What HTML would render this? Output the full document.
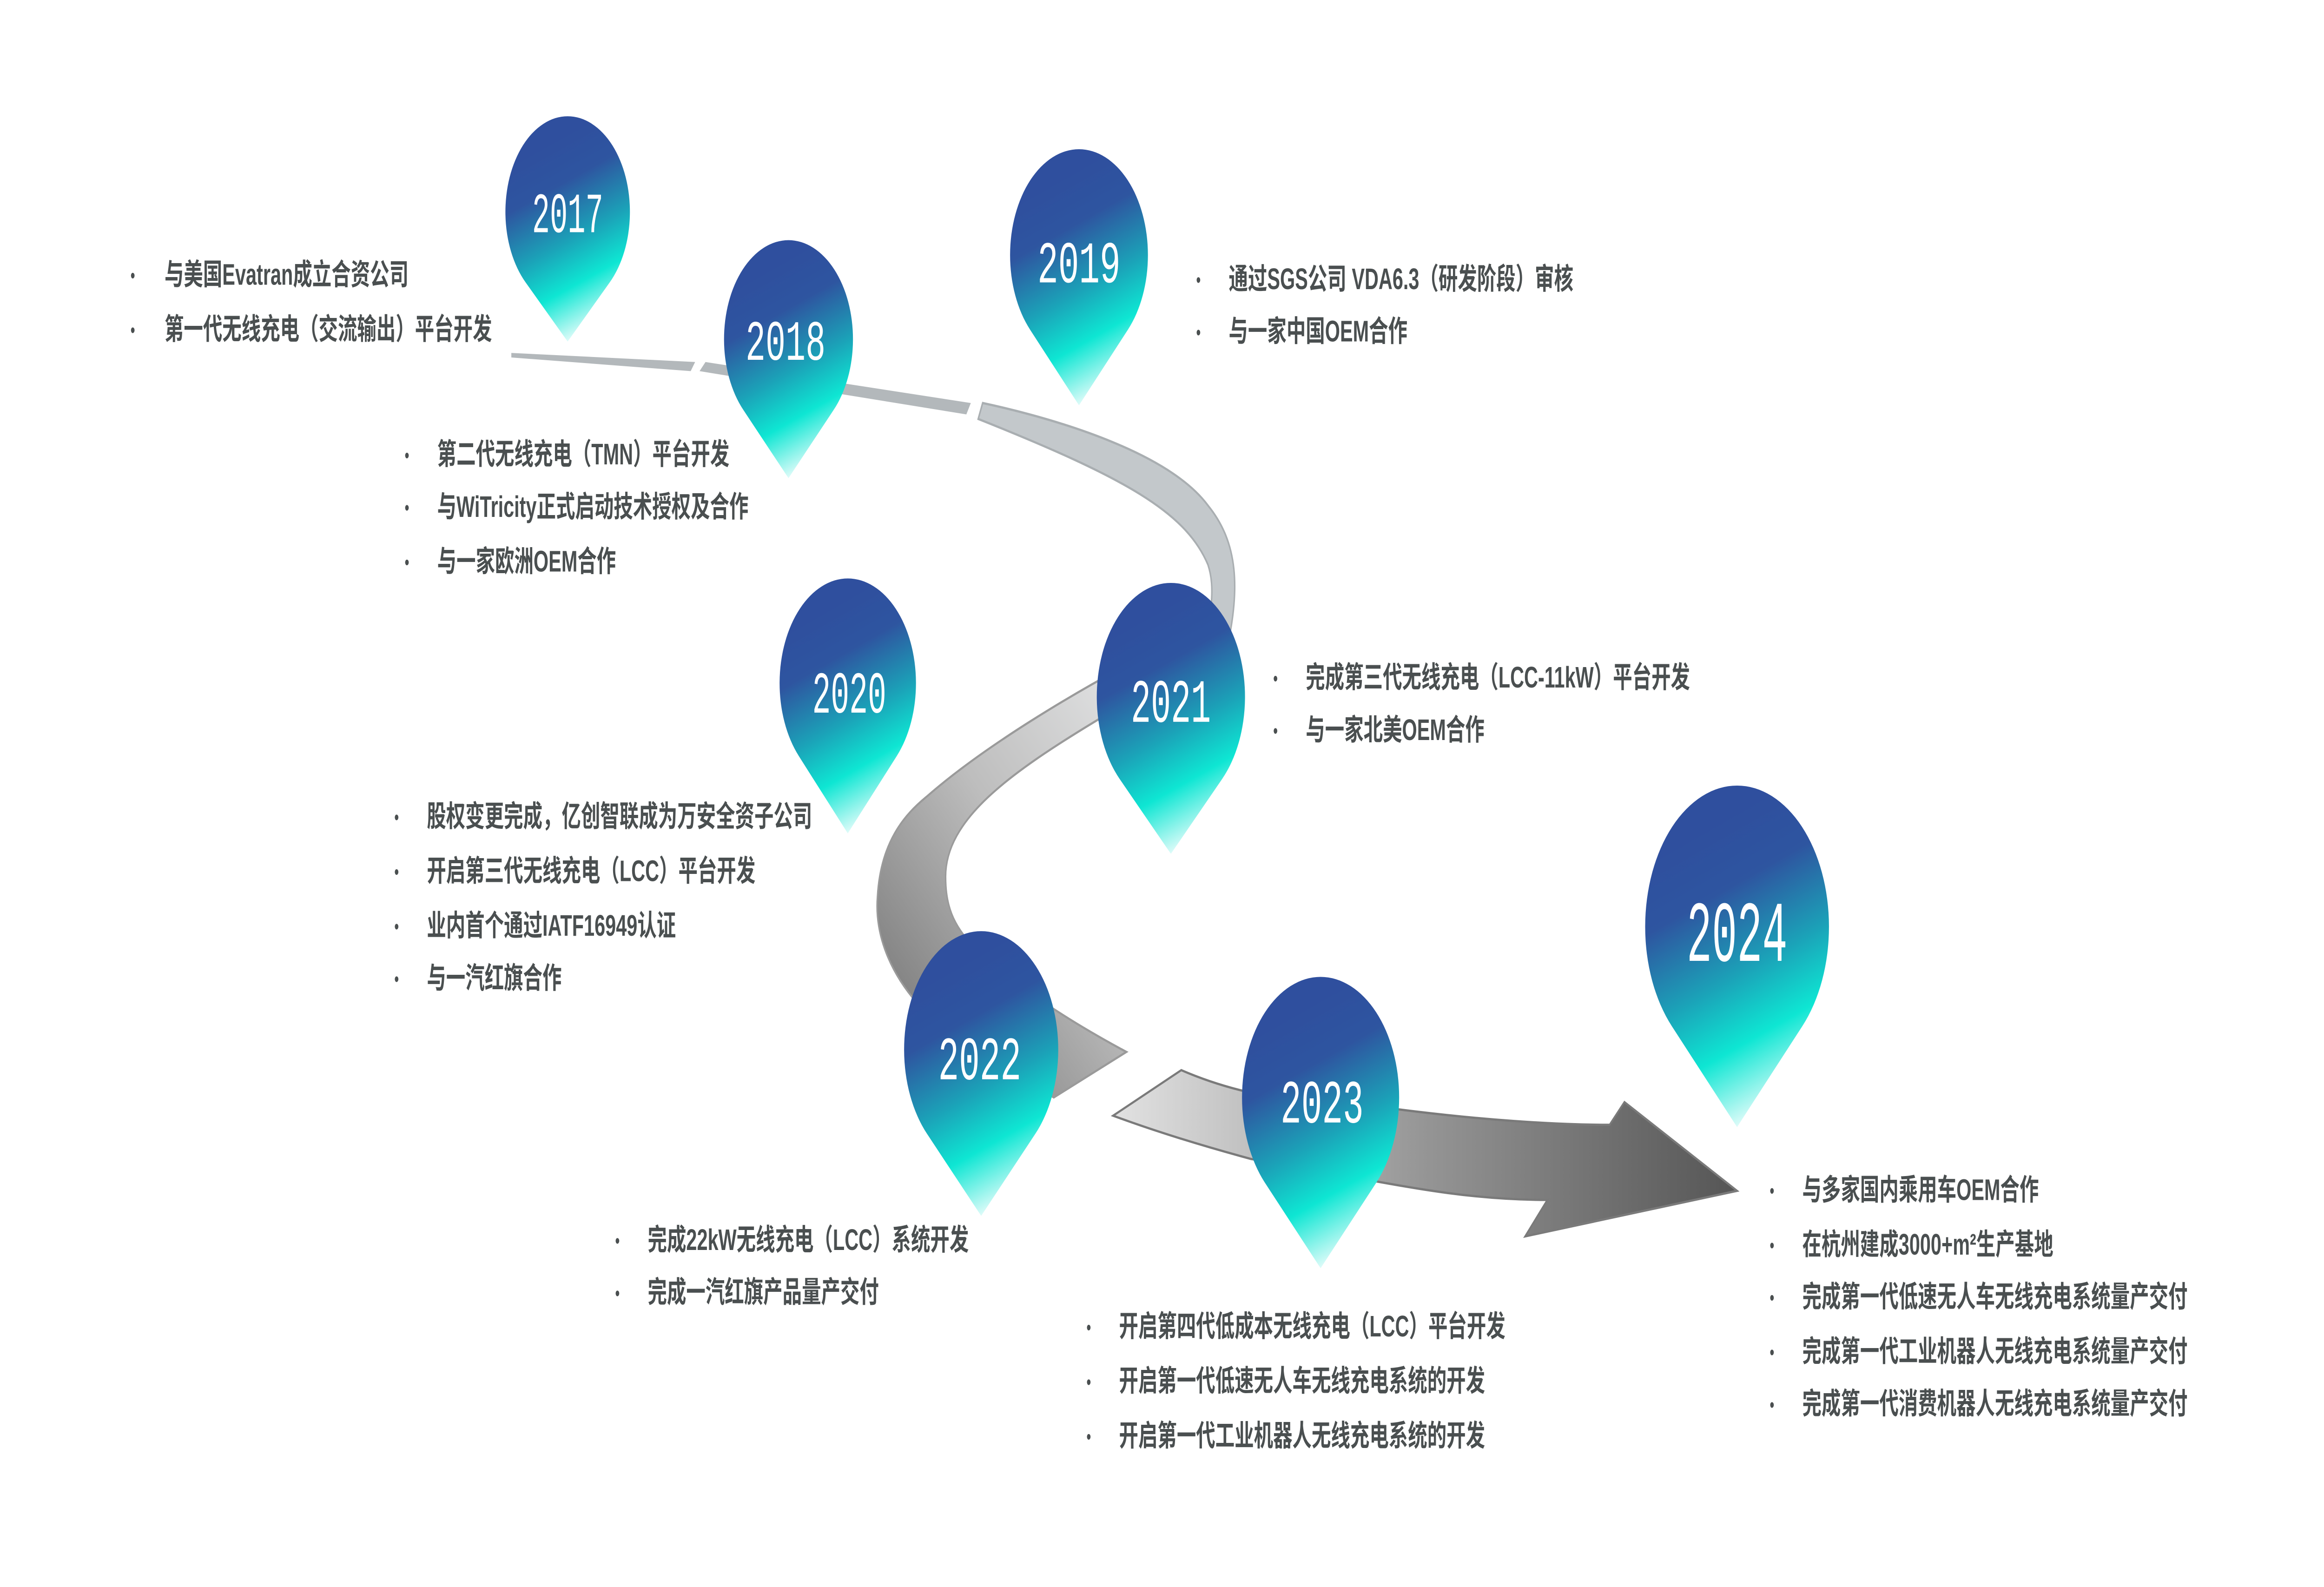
<!DOCTYPE html>
<html><head><meta charset="utf-8"><style>
html,body{margin:0;padding:0;background:#fff;width:100%;height:100%;overflow:hidden;}
svg{display:block;width:100vw;height:100vh;}
.t{font-family:"Liberation Sans","Noto Sans CJK SC",sans-serif;font-weight:bold;font-size:13px;fill:#4a4f50;}
.b{font-family:"Liberation Sans",sans-serif;font-size:9px;fill:#4a4f50;}
.y{font-family:"Liberation Mono","DejaVu Sans Mono",monospace;fill:#fff;text-anchor:middle;}
</style></head><body>
<svg viewBox="0 0 1568 697" preserveAspectRatio="none" xmlns="http://www.w3.org/2000/svg">
<defs>
<linearGradient id="pg" x1="0.35" y1="0.12" x2="0.62" y2="1">
<stop offset="0" stop-color="#2f4f9e"/>
<stop offset="0.22" stop-color="#2e55a0"/>
<stop offset="0.5" stop-color="#1ba2b8"/>
<stop offset="0.72" stop-color="#0ee6d3"/>
<stop offset="1" stop-color="#ffffff"/>
</linearGradient>
<linearGradient id="sg" x1="1" y1="0" x2="0" y2="1">
<stop offset="0" stop-color="#f0f1f2"/>
<stop offset="0.5" stop-color="#bdbdbd"/>
<stop offset="1" stop-color="#6a6a6a"/>
</linearGradient>
<linearGradient id="ag" x1="0" y1="0" x2="1" y2="0">
<stop offset="0" stop-color="#e2e2e2"/>
<stop offset="0.5" stop-color="#959595"/>
<stop offset="1" stop-color="#555"/>
</linearGradient>
</defs>

<polygon points="345,155 469,159 466,163 345,157" fill="#b3b8bb"/>
<polygon points="476,159 655,177 652,182 472,163" fill="#b3b8bb"/>
<path d="M663,177 C720,185 790,200 815,222 C835,238 838,258 826,290 L808,295 C818,270 820,258 815,248 C800,225 760,210 660,184 Z" fill="#c3c8cb" stroke="#a9aeb1" stroke-width="1"/>
<path d="M790,282 C720,305 660,330 625,350 C610,358 594,370 592,394 C590,410 600,430 630,448 C650,460 680,470 711,482 L760,462 C720,448 690,435 660,418 C645,408 638,400 638,385 C638,360 680,340 741,316 L800,295 Z" fill="url(#sg)" stroke="#9a9a9a" stroke-width="1"/>
<path d="M797,470 C850,485 900,485 941,487 C1000,492 1050,494 1086,494 L1096,484 L1172,523 L1029,543 L1044,527 C980,527 935,519 844,509 C810,503 780,497 751,490 Z" fill="url(#ag)" stroke="#7a7a7a" stroke-width="1"/>

<path d="M383,150 L354.6,124 A42,42 0 1 1 411.4,124 Z" fill="url(#pg)"/>
<path d="M532,210 L501.5,180 A43.5,43.5 0 1 1 562.5,180 Z" fill="url(#pg)"/>
<path d="M728,178 L695,144.8 A46.5,46.5 0 1 1 761,144.8 Z" fill="url(#pg)"/>
<path d="M572,366 L539,332.1 A46,46 0 1 1 605,332.1 Z" fill="url(#pg)"/>
<path d="M790,375 L755.5,342.2 A50,50 0 1 1 824.5,342.2 Z" fill="url(#pg)"/>
<path d="M662,534 L625.5,498 A52,52 0 1 1 698.5,498 Z" fill="url(#pg)"/>
<path d="M891,557 L853.5,519.5 A53,53 0 1 1 928.5,519.5 Z" fill="url(#pg)"/>
<path d="M1172,495 L1128,450.7 A62,62 0 1 1 1216,450.7 Z" fill="url(#pg)"/>

<text class="y" x="383" y="102" font-size="25" textLength="48" lengthAdjust="spacingAndGlyphs">2017</text>
<text class="y" x="530" y="158" font-size="25" textLength="54" lengthAdjust="spacingAndGlyphs">2018</text>
<text class="y" x="728" y="124" font-size="26" textLength="56" lengthAdjust="spacingAndGlyphs">2019</text>
<text class="y" x="573" y="313" font-size="26" textLength="50" lengthAdjust="spacingAndGlyphs">2020</text>
<text class="y" x="790" y="317" font-size="27" textLength="54" lengthAdjust="spacingAndGlyphs">2021</text>
<text class="y" x="661" y="474" font-size="27" textLength="56" lengthAdjust="spacingAndGlyphs">2022</text>
<text class="y" x="892" y="493" font-size="27" textLength="56" lengthAdjust="spacingAndGlyphs">2023</text>
<text class="y" x="1172" y="422" font-size="38" textLength="68" lengthAdjust="spacingAndGlyphs">2024</text>

<g>
<text class="b" x="88" y="124">•</text><text class="t" x="111" y="125">与美国Evatran成立合资公司</text>
<text class="b" x="88" y="148">•</text><text class="t" x="111" y="149">第一代无线充电（交流输出）平台开发</text>

<text class="b" x="273" y="203">•</text><text class="t" x="295" y="204">第二代无线充电（TMN）平台开发</text>
<text class="b" x="273" y="226">•</text><text class="t" x="295" y="227">与WiTricity正式启动技术授权及合作</text>
<text class="b" x="273" y="250">•</text><text class="t" x="295" y="251">与一家欧洲OEM合作</text>

<text class="b" x="807" y="126">•</text><text class="t" x="829" y="127">通过SGS公司 VDA6.3（研发阶段）审核</text>
<text class="b" x="807" y="149">•</text><text class="t" x="829" y="150">与一家中国OEM合作</text>

<text class="b" x="266" y="362">•</text><text class="t" x="288" y="363">股权变更完成，亿创智联成为万安全资子公司</text>
<text class="b" x="266" y="386">•</text><text class="t" x="288" y="387">开启第三代无线充电（LCC）平台开发</text>
<text class="b" x="266" y="410">•</text><text class="t" x="288" y="411">业内首个通过IATF16949认证</text>
<text class="b" x="266" y="433">•</text><text class="t" x="288" y="434">与一汽红旗合作</text>

<text class="b" x="859" y="301">•</text><text class="t" x="881" y="302">完成第三代无线充电（LCC-11kW）平台开发</text>
<text class="b" x="859" y="324">•</text><text class="t" x="881" y="325">与一家北美OEM合作</text>

<text class="b" x="415" y="548">•</text><text class="t" x="437" y="549">完成22kW无线充电（LCC）系统开发</text>
<text class="b" x="415" y="571">•</text><text class="t" x="437" y="572">完成一汽红旗产品量产交付</text>

<text class="b" x="733" y="586">•</text><text class="t" x="755" y="587">开启第四代低成本无线充电（LCC）平台开发</text>
<text class="b" x="733" y="610">•</text><text class="t" x="755" y="611">开启第一代低速无人车无线充电系统的开发</text>
<text class="b" x="733" y="634">•</text><text class="t" x="755" y="635">开启第一代工业机器人无线充电系统的开发</text>

<text class="b" x="1194" y="526">•</text><text class="t" x="1216" y="527">与多家国内乘用车OEM合作</text>
<text class="b" x="1194" y="550">•</text><text class="t" x="1216" y="551">在杭州建成3000+m²生产基地</text>
<text class="b" x="1194" y="573">•</text><text class="t" x="1216" y="574">完成第一代低速无人车无线充电系统量产交付</text>
<text class="b" x="1194" y="597">•</text><text class="t" x="1216" y="598">完成第一代工业机器人无线充电系统量产交付</text>
<text class="b" x="1194" y="620">•</text><text class="t" x="1216" y="621">完成第一代消费机器人无线充电系统量产交付</text>
</g>
</svg>
</body></html>
